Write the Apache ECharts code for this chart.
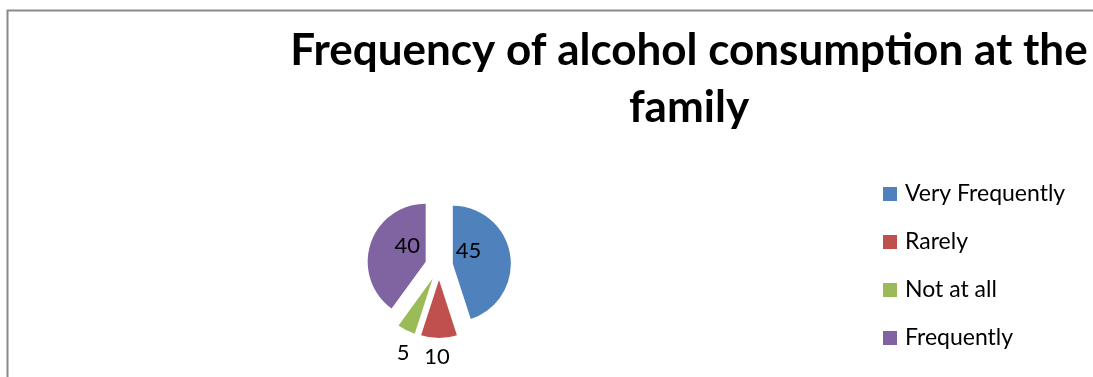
<!DOCTYPE html>
<html>
<head>
<meta charset="utf-8">
<script src="https://cdn.jsdelivr.net/npm/echarts@6/dist/echarts.min.js"></script>
<style>
  html, body { margin: 0; padding: 0; background: #fff; }
  #chart { width: 1093px; height: 377px; }
</style>
</head>
<body>
<div id="chart"></div>
<script>
// Survey answers: how often alcohol is consumed in the family
const categories = ['Very Frequently', 'Rarely', 'Not at all', 'Frequently'];
const counts = [45, 10, 5, 40];
const colors = ['#4F81BD', '#C0504D', '#9BBB59', '#8064A2'];

// Nudges that move each value label from the slice middle to its resting place
const labelNudges = [[-16, -8], [-2, 45], [-15, 46], [12, -6]];

const chart = echarts.init(document.getElementById('chart'), null, { renderer: 'canvas' });

const FONT = 'Lato';

chart.setOption({
  animation: false,
  backgroundColor: '#ffffff',
  title: {
    text: 'Frequency of alcohol consumption at the\nfamily',
    left: 684,
    top: 17,
    textAlign: 'center',
    textStyle: {
      fontFamily: FONT,
      fontWeight: 'bold',
      fontSize: 44,
      lineHeight: 57,
      color: '#000'
    }
  },
  legend: {
    orient: 'vertical',
    left: 883,
    top: 181,
    padding: 0,
    icon: 'rect',
    itemWidth: 14,
    itemHeight: 14,
    itemGap: 22,
    selectedMode: false,
    textStyle: {
      fontFamily: FONT,
      fontSize: 23,
      lineHeight: 26,
      color: '#000',
      padding: [0, 0, 0, 3]
    },
    data: categories
  },
  graphic: [{
    type: 'polyline',
    silent: true,
    shape: { points: [[7.5, 377], [7.5, 10.5], [1093, 10.5]] },
    style: { stroke: '#8a8a8a', lineWidth: 2, fill: null }
  }],
  series: [{
    type: 'pie',
    center: [439, 266],
    radius: 58,
    startAngle: 90,
    clockwise: true,
    selectedMode: 'multiple',
    selectedOffset: 14,
    avoidLabelOverlap: false,
    emphasis: { disabled: true },
    label: {
      show: true,
      position: 'inside',
      formatter: '{c}',
      fontFamily: FONT,
      fontSize: 22,
      color: '#000'
    },
    labelLine: { show: false },
    labelLayout: function (params) {
      const n = labelNudges[params.dataIndex];
      return { dx: n[0], dy: n[1] };
    },
    data: categories.map(function (name, i) {
      return {
        name: name,
        value: counts[i],
        selected: true,
        itemStyle: { color: colors[i] }
      };
    })
  }]
});
</script>
</body>
</html>
